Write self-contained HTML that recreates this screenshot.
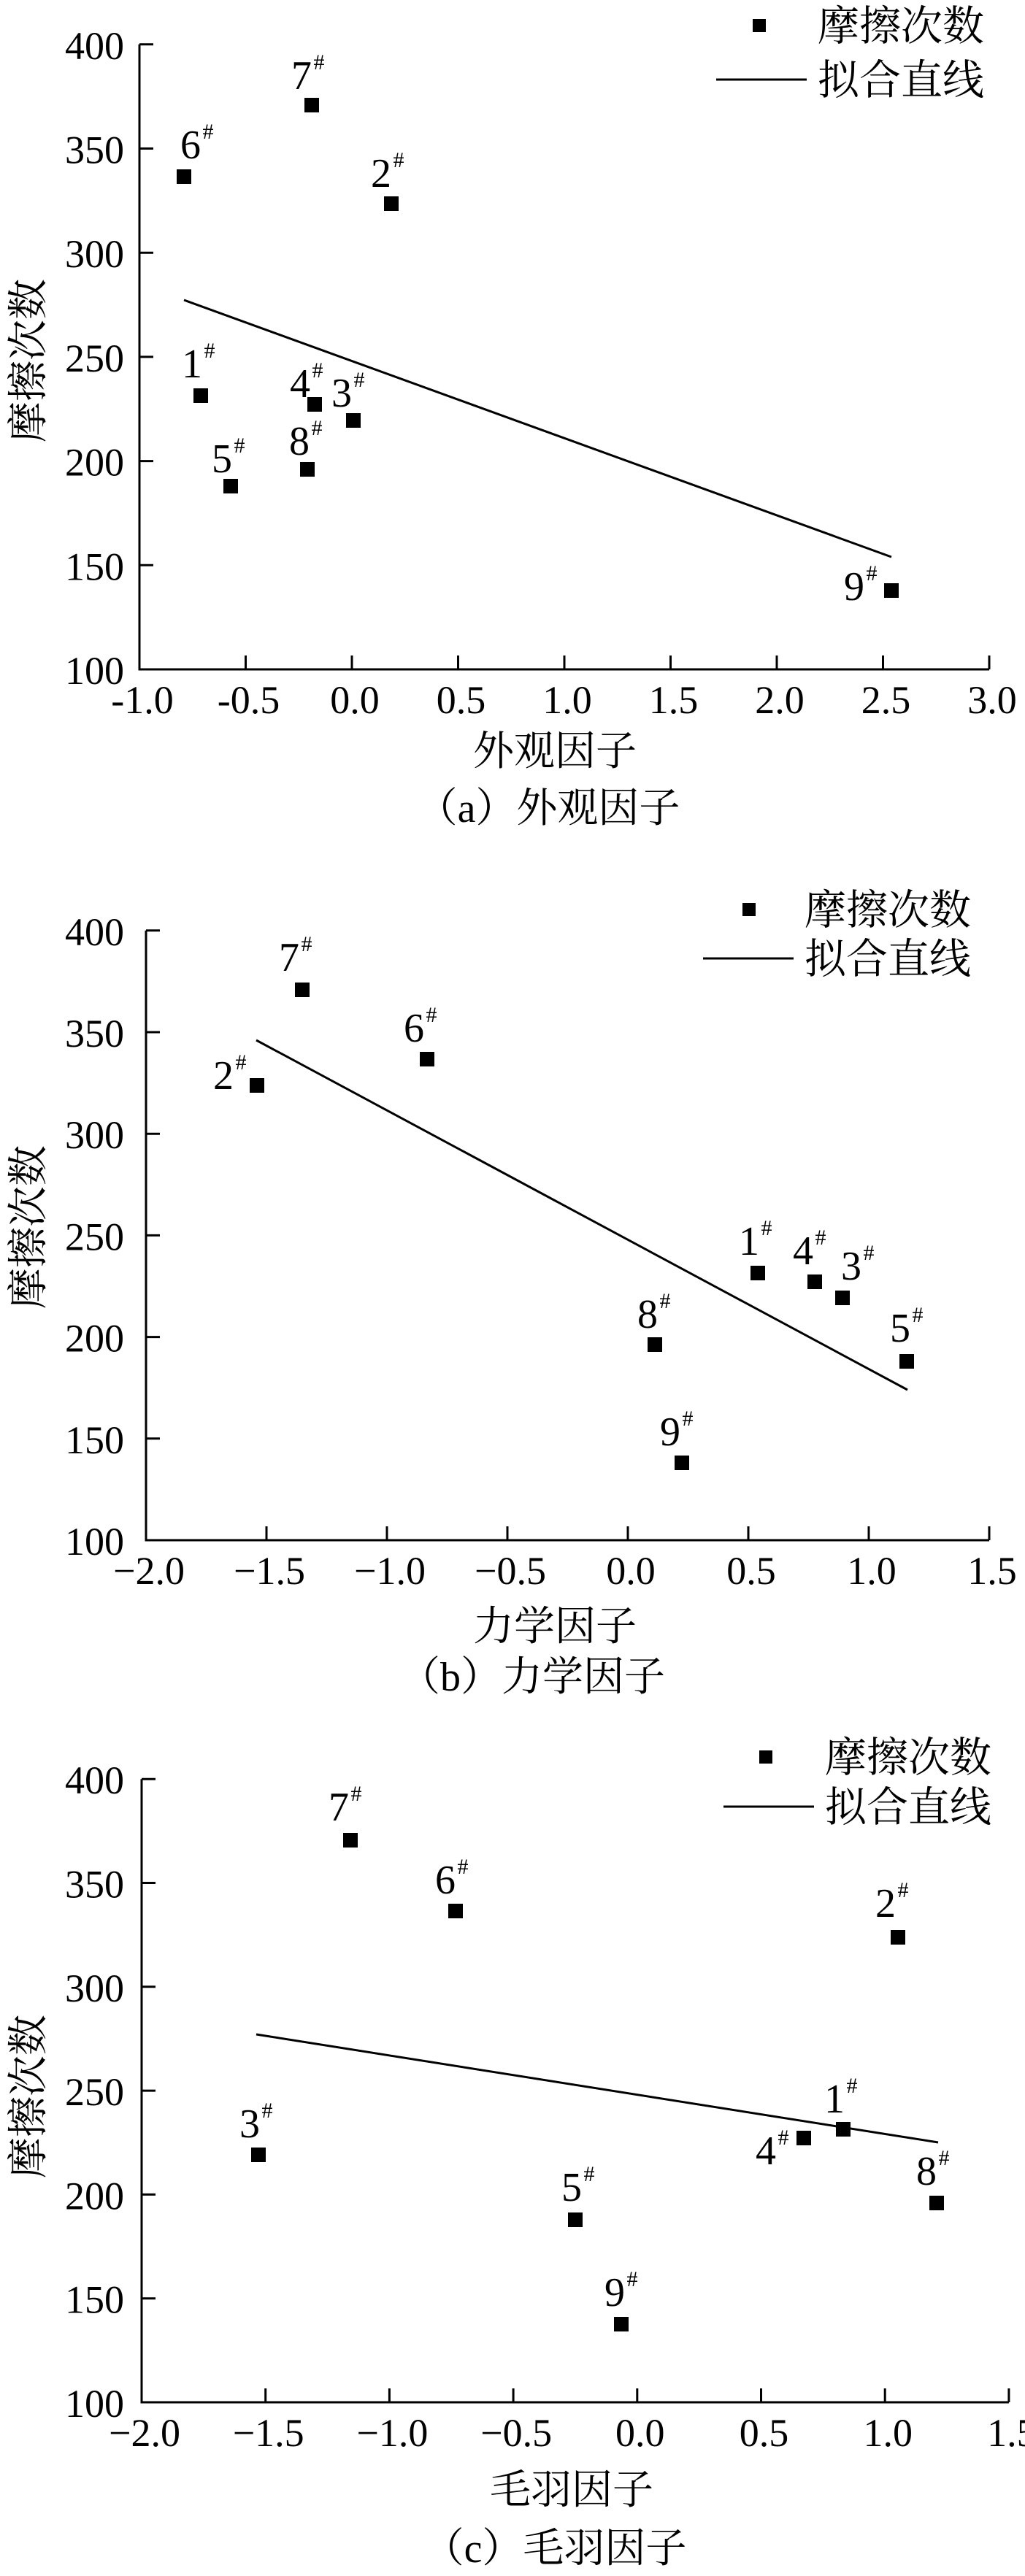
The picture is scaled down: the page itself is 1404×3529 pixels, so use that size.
<!DOCTYPE html>
<html><head><meta charset="utf-8"><style>
html,body{margin:0;padding:0;background:#fff;}
svg{display:block;}
text{fill:#000;}
.n{font-family:"Liberation Serif","Noto Serif CJK SC",serif;}
.c{font-family:"Liberation Serif","Noto Serif CJK SC","Noto Sans CJK SC",serif;}
</style></head><body>
<svg id="s" width="1404" height="3529" viewBox="0 0 1404 3529" xmlns="http://www.w3.org/2000/svg"></svg>
<script>
var s=document.getElementById('s'),h='';
function panel(p){
  var X=function(v){return p.x0+(v-p.xmin)*p.xu;};
  var Y=function(v){return p.yb-(v-100)/50*p.yu;};
  var yt=Y(400);
  h+='<path d="M'+p.x0+' '+yt+'V'+p.yb+'H'+X(p.xmax)+'" fill="none" stroke="#000" stroke-width="3"/>';
  for(var v=100;v<=400;v+=50){var y=Y(v);
    h+='<line x1="'+p.x0+'" y1="'+y+'" x2="'+(p.x0+19)+'" y2="'+y+'" stroke="#000" stroke-width="3"/>';
    h+='<text class="n" x="170" y="'+(y+20)+'" font-size="54" text-anchor="end">'+v+'</text>';}
  for(var i=0;i<=p.nt;i++){var v=p.xmin+i*0.5,x=X(v);
    h+='<line x1="'+x+'" y1="'+p.yb+'" x2="'+x+'" y2="'+(p.yb-19)+'" stroke="#000" stroke-width="3"/>';
    var t=v.toFixed(1);if(v<0)t=p.minus+(-v).toFixed(1);
    h+='<text class="n" x="'+(x+4)+'" y="'+(p.yb+60)+'" font-size="54" text-anchor="middle">'+t+'</text>';}
  h+='<line x1="'+p.l[0]+'" y1="'+p.l[1]+'" x2="'+p.l[2]+'" y2="'+p.l[3]+'" stroke="#000" stroke-width="3"/>';
  p.pts.forEach(function(q){
    h+='<rect x="'+(q[1]-10)+'" y="'+(q[2]-10)+'" width="20" height="20" fill="#000"/>';
    h+='<text class="n" x="'+q[3]+'" y="'+(q[4]+19)+'" font-size="56" text-anchor="middle">'+q[0]+'</text>';
    h+='<text class="n" x="'+(q[3]+24)+'" y="'+(q[4]-8)+'" font-size="30" text-anchor="middle">#</text>';
  });
  // legend
  h+='<rect x="'+(p.lg[0]-9)+'" y="'+(p.lg[1]-9)+'" width="18" height="18" fill="#000"/>';
  h+='<text class="c" x="'+p.lg[2]+'" y="'+(p.lg[1]+20)+'" font-size="57">摩擦次数</text>';
  h+='<line x1="'+(p.lg[2]-139)+'" y1="'+p.lg[3]+'" x2="'+(p.lg[2]-15)+'" y2="'+p.lg[3]+'" stroke="#000" stroke-width="3"/>';
  h+='<text class="c" x="'+p.lg[2]+'" y="'+(p.lg[3]+20)+'" font-size="57">拟合直线</text>';
  h+='<text class="c" transform="translate(58 '+p.ylc+') rotate(-90)" font-size="56" text-anchor="middle">摩擦次数</text>';
  h+='<text class="c" x="'+p.t[0]+'" y="'+(p.t[1]+20)+'" font-size="56" text-anchor="middle">'+p.t[2]+'</text>';
  h+='<text class="c" x="'+p.c[0]+'" y="'+(p.c[1]+20)+'" font-size="56" text-anchor="middle">'+p.c[2]+'</text>';
}
panel({x0:191,xmin:-1,xmax:3,xu:291,nt:8,yb:917,yu:142.7,minus:'-',
 l:[252,411,1221,763],
 pts:[['7',427,144,413,103],['6',252,242,261,198],['2',536,279,522,237],['1',275,542,263,498],['4',431,554,411,525],['3',484,576,468,538],['8',421,643,410,604],['5',316,666,304,628],['9',1221,809,1170,803]],
 lg:[1040,35,1120,109],ylc:494,t:[760,1028,'外观因子'],c:[751,1106,'（a）外观因子']});
panel({x0:200,xmin:-2,xmax:1.5,xu:330,nt:7,yb:2110,yu:139.2,minus:'−',
 l:[351,1425,1243,1904],
 pts:[['7',414,1356,396,1311],['6',585,1451,567,1408],['2',352,1487,306,1473],['1',1038,1744,1026,1700],['4',1116,1756,1100,1713],['3',1154,1778,1166,1734],['5',1242,1865,1233,1819],['8',897,1842,887,1800],['9',934,2004,918,1961]],
 lg:[1026,1246,1102,1313],ylc:1681,t:[760,2227,'力学因子'],c:[729,2296,'（b）力学因子']});
panel({x0:194,xmin:-2,xmax:1.5,xu:339.4,nt:7,yb:3291,yu:142.3,minus:'−',
 l:[351,2787,1285,2935],
 pts:[['7',480,2521,464,2475],['6',624,2618,610,2575],['2',1230,2654,1213,2607],['3',354,2952,342,2909],['4',1101,2929,1049,2946],['1',1155,2917,1143,2875],['8',1283,3018,1269,2974],['5',788,3041,783,2996],['9',851,3184,842,3140]],
 lg:[1049,2407,1130,2475],ylc:2872,t:[783,3410,'毛羽因子'],c:[760,3490,'（c）毛羽因子']});
s.innerHTML=h;
</script>
</body></html>
